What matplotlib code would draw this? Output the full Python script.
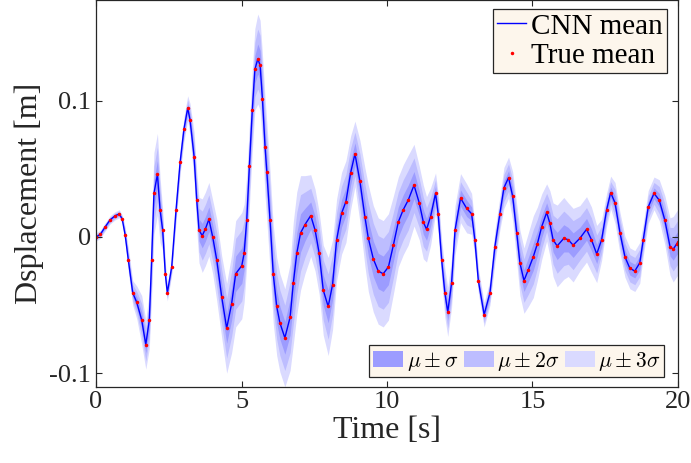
import matplotlib
matplotlib.use('Agg')
import matplotlib.pyplot as plt
import numpy as np

plt.rcParams['font.family'] = ['Liberation Serif', 'DejaVu Serif']
plt.rcParams['mathtext.fontset'] = 'cm'

# time [s]
time = [
    0.00, 0.15, 0.30, 0.48, 0.65, 0.80, 0.90, 1.00, 1.11, 1.26,
    1.40, 1.57, 1.71, 1.83, 1.91, 1.99, 2.11, 2.20, 2.29, 2.38,
    2.45, 2.60, 2.75, 2.89, 3.02, 3.15, 3.23, 3.37, 3.46, 3.54,
    3.65, 3.76, 3.88, 4.01, 4.15, 4.32, 4.49, 4.66, 4.80, 5.01,
    5.09, 5.18, 5.27, 5.37, 5.46, 5.56, 5.64, 5.72, 5.81, 5.87,
    5.98, 6.09, 6.21, 6.32, 6.49, 6.67, 6.78, 6.90, 7.03, 7.18,
    7.38, 7.53, 7.67, 7.81, 7.98, 8.13, 8.27, 8.44, 8.59, 8.75,
    8.90, 9.07, 9.24, 9.36, 9.53, 9.70, 9.87, 10.05, 10.22, 10.39,
    10.56, 10.73, 10.93, 11.11, 11.25, 11.36, 11.50, 11.67, 11.76, 11.88,
    11.99, 12.09, 12.22, 12.34, 12.53, 12.74, 12.91, 13.02, 13.14, 13.34,
    13.54, 13.71, 13.88, 14.02, 14.18, 14.32, 14.46, 14.57, 14.71, 14.86,
    15.03, 15.17, 15.32, 15.49, 15.60, 15.71, 15.85, 16.08, 16.23, 16.40,
    16.63, 16.86, 17.03, 17.21, 17.38, 17.55, 17.69, 17.84, 18.01, 18.18,
    18.35, 18.52, 18.69, 18.81, 18.98, 19.18, 19.36, 19.55, 19.73, 19.84,
    19.96, 20.00]

# CNN mean displacement [m]
cnn_mean = [
    0.000, 0.002, 0.007, 0.0125, 0.0155, 0.017, 0.013, 0.0015, -0.017, -0.041,
    -0.048, -0.061, -0.079, -0.061, -0.017, 0.032, 0.046, 0.020, 0.005, -0.027,
    -0.041, -0.022, 0.020, 0.055, 0.079, 0.0946, 0.086, 0.059, 0.027, 0.005,
    0.001, 0.006, 0.013, 0.000, -0.017, -0.044, -0.067, -0.049, -0.027, -0.021,
    -0.012, 0.0125, 0.052, 0.093, 0.123, 0.1306, 0.126, 0.101, 0.066, 0.048,
    0.0125, -0.027, -0.051, -0.063, -0.074, -0.059, -0.034, -0.012, 0.003, 0.009,
    0.0157, 0.005, -0.012, -0.039, -0.051, -0.035, -0.002, 0.0174, 0.026, 0.047,
    0.061, 0.041, 0.015, -0.001, -0.016, -0.025, -0.027, -0.022, -0.006, 0.011,
    0.020, 0.027, 0.038, 0.025, 0.011, 0.0056, 0.015, 0.032, 0.017, -0.017,
    -0.041, -0.055, -0.034, 0.005, 0.0285, 0.021, 0.017, -0.002, -0.032, -0.057,
    -0.041, -0.007, 0.017, 0.036, 0.0436, 0.030, 0.003, -0.019, -0.032, -0.024,
    -0.0145, -0.005, 0.0076, 0.018, 0.010, -0.002, -0.0066, -0.001, -0.002, -0.006,
    -0.001, 0.0056, -0.002, -0.0125, -0.002, 0.020, 0.0326, 0.025, 0.003, -0.0145,
    -0.023, -0.025, -0.019, -0.002, 0.022, 0.032, 0.027, 0.0125, -0.007, -0.009,
    -0.005, -0.004]

# true mean (same samples as the CNN mean, lies on top of it)
true_mean = list(cnn_mean)

# standard deviation [m]
sigma = [
    0.001, 0.001, 0.001, 0.001, 0.001, 0.001, 0.001, 0.002, 0.003, 0.003,
    0.004, 0.006, 0.006, 0.007, 0.009, 0.010, 0.010, 0.008, 0.005, 0.003,
    0.002, 0.002, 0.003, 0.003, 0.003, 0.003, 0.004, 0.006, 0.007, 0.008,
    0.009, 0.009, 0.009, 0.009, 0.010, 0.010, 0.011, 0.012, 0.013, 0.013,
    0.012, 0.011, 0.010, 0.010, 0.010, 0.011, 0.011, 0.011, 0.012, 0.012,
    0.012, 0.012, 0.012, 0.012, 0.012, 0.013, 0.015, 0.015, 0.014, 0.012,
    0.010, 0.010, 0.010, 0.011, 0.012, 0.011, 0.010, 0.010, 0.010, 0.009,
    0.008, 0.010, 0.012, 0.013, 0.013, 0.013, 0.013, 0.013, 0.012, 0.011,
    0.011, 0.011, 0.010, 0.009, 0.009, 0.008, 0.007, 0.005, 0.005, 0.005,
    0.006, 0.006, 0.006, 0.006, 0.006, 0.006, 0.005, 0.004, 0.003, 0.003,
    0.003, 0.004, 0.004, 0.005, 0.005, 0.006, 0.007, 0.008, 0.008, 0.009,
    0.010, 0.009, 0.008, 0.007, 0.008, 0.009, 0.010, 0.010, 0.009, 0.009,
    0.008, 0.008, 0.008, 0.007, 0.005, 0.004, 0.004, 0.005, 0.005, 0.005,
    0.005, 0.005, 0.005, 0.004, 0.004, 0.004, 0.005, 0.006, 0.007, 0.008,
    0.008, 0.008]

yticks = [-0.1, 0, 0.1]
ytick_labels = ['-0.1', '0', '0.1']
xticks = [0, 5, 10, 15, 20]

t = np.array(time)
mu = np.array(cnn_mean)
sd = np.array(sigma)

fig = plt.figure(figsize=(6.91, 4.63), dpi=100)
ax = fig.add_axes([0.139, 0.165, 0.842, 0.835])

band_colors = ['#9C9CFF', '#BDBDFF', '#DADAFF']
f3 = ax.fill_between(t, mu - 3 * sd, mu + 3 * sd, color=band_colors[2], lw=0)
f2 = ax.fill_between(t, mu - 2 * sd, mu + 2 * sd, color=band_colors[1], lw=0)
f1 = ax.fill_between(t, mu - sd, mu + sd, color=band_colors[0], lw=0)

l1, = ax.plot(t, mu, color='#0000FF', lw=1.0)
l2, = ax.plot(t, true_mean, ls='none', marker='.', color='red', markersize=3)

ax.set_xlim(0, 20)
ax.set_ylim(-0.1098, 0.1739)
ax.set_xticks(xticks)
ax.set_xticklabels([str(v) for v in xticks])
ax.set_yticks(yticks)
ax.set_yticklabels(ytick_labels)
ax.tick_params(direction='in', top=True, right=True, length=4, width=0.8,
               labelsize=19, colors='#262626')
for s in ax.spines.values():
    s.set_color('#262626')
    s.set_linewidth(0.9)

ax.set_xlabel('Time [s]', fontsize=23, color='#262626', labelpad=2)
ax.set_ylabel('Dsplacement [m]', fontsize=23, color='#262626', labelpad=4)

leg1 = ax.legend([l1, l2], ['CNN mean', 'True mean'], loc='upper right',
                 bbox_to_anchor=(0.981, 0.977), fontsize=21, fancybox=False,
                 handlelength=1.0, handletextpad=0.15, borderpad=0.15,
                 labelspacing=0.1, borderaxespad=0.0, framealpha=1)
leg1.get_frame().set_facecolor('#FDF6EC')
leg1.get_frame().set_edgecolor('#262626')
leg1.get_frame().set_linewidth(0.9)
ax.add_artist(leg1)

leg2 = ax.legend([f1, f2, f3],
                 [r'$\mu \pm \sigma$', r'$\mu \pm 2\sigma$', r'$\mu \pm 3\sigma$'],
                 loc='lower right', bbox_to_anchor=(0.977, 0.025), ncol=3,
                 fontsize=15.5, fancybox=False, handlelength=1.4,
                 handleheight=0.8, handletextpad=0.15, columnspacing=0.25,
                 borderpad=0.2, borderaxespad=0.0, framealpha=1)
leg2.get_frame().set_facecolor('#FDF6EC')
leg2.get_frame().set_edgecolor('#262626')
leg2.get_frame().set_linewidth(0.9)

fig.savefig('out.png', dpi=100)
